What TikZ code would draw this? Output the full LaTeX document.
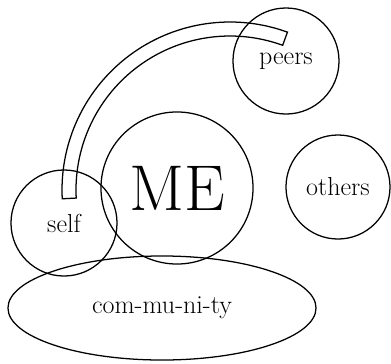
\documentclass[tikz,border=0pt]{standalone}
\usepackage{tikz}
\usetikzlibrary{shapes.geometric}

\begin{document}
\begin{tikzpicture}[
			x=0.025cm, y=-0.025cm,
			ring/.style={circle, draw=black, line width=0.9pt, inner sep=0pt,
				font=\fontsize{18.5}{22}\selectfont},
			pool/.style={ellipse, draw=black, line width=0.9pt, inner sep=0pt,
				font=\fontsize{18.5}{22}\selectfont},
			band/.style={draw=black, line width=0.9pt, line join=miter}
			]
			\useasboundingbox (0,0) rectangle (391,364);
			
			\node[ring, minimum size=2.65cm] (peers) at (286,61) {peers};
			\node[ring, minimum size=3.8cm, font=\fontsize{46}{50}\selectfont] (me) at (177,188) {ME};
			\node[ring, minimum size=2.6cm] (others) at (338,187) {others};
			\node[ring, minimum size=2.65cm] (self) at (64,223) {self};
			\node[pool, minimum width=7.7cm, minimum height=2.6cm] (community) at (162,308) {com-mu-ni-ty};
			
			\coordinate (hub) at (230,190);
			\draw[band] (hub) ++(177:168) arc[start angle=177, end angle=290, radius=168]
				-- ++(110:14) arc[start angle=290, end angle=177, radius=154] -- cycle;
		\end{tikzpicture}
\end{document}
